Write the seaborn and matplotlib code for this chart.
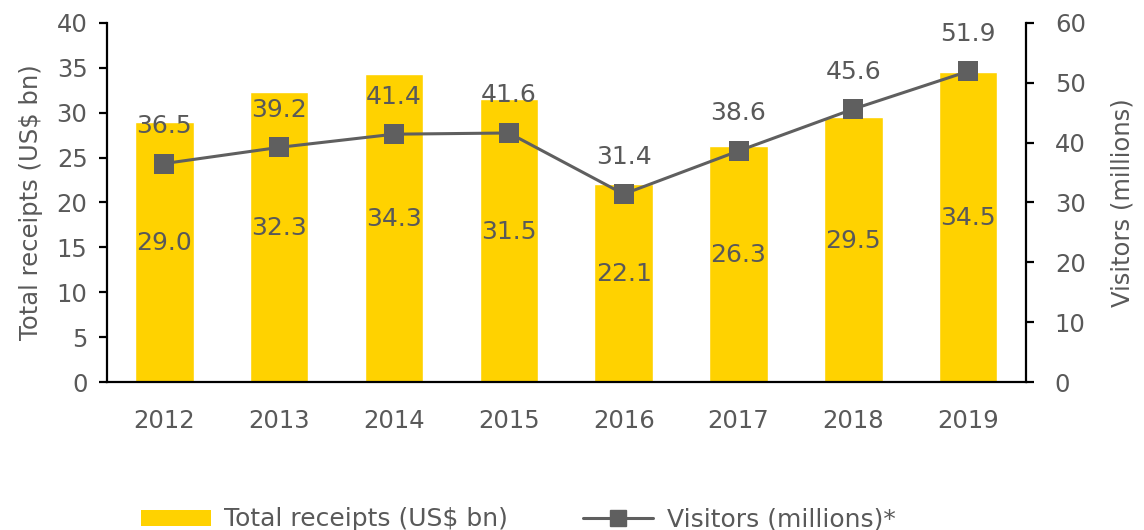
import numpy as np
import pandas as pd
import seaborn as sns
import matplotlib.pyplot as plt
from matplotlib.lines import Line2D
from matplotlib.patches import Patch

years = ["2012", "2013", "2014", "2015", "2016", "2017", "2018", "2019"]
receipts = [29.0, 32.3, 34.3, 31.5, 22.1, 26.3, 29.5, 34.5]
visitors = [36.5, 39.2, 41.4, 41.6, 31.4, 38.6, 45.6, 51.9]

jaune = "#FFD200"
gris = "#5F5F5F"
texte = "#595959"

sns.set_style("white")
plt.rcParams['font.family'] = ['DejaVu Sans']

df = pd.DataFrame({"annee": years, "recettes": receipts, "visiteurs": visitors})

fig = plt.figure(figsize=(11.44, 5.30), dpi=100)
ax = fig.add_axes([0.0935, 0.279, 0.803, 0.678])

# barres des recettes
sns.barplot(data=df, x="annee", y="recettes", color=jaune, width=0.51,
            saturation=1, ax=ax)
ax.set_ylim(0, 40)
ax.set_yticks(range(0, 41, 5))
ax.set_xlim(-0.5, 7.5)
for i, v in enumerate(receipts):
    ax.text(i, v / 2 + 1.0, f"{v:.1f}", ha="center", va="center",
            fontsize=18, color=texte)

# ligne des visiteurs sur l'axe de droite
ax2 = ax.twinx()
sns.lineplot(x=np.arange(len(years)), y=visitors, ax=ax2, color=gris,
             linewidth=2.2, marker="s", markersize=14, markeredgewidth=0)
ax2.set_ylim(0, 60)
ax2.set_yticks(range(0, 61, 10))
for i, v in enumerate(visitors):
    ax2.annotate(f"{v:.1f}", (i, v), xytext=(0, 27), textcoords="offset points",
                 ha="center", va="center", fontsize=18, color=texte)

# axes et graduations
for a in (ax, ax2):
    for s in a.spines.values():
        s.set_visible(False)
ax.spines["left"].set_visible(True)
ax.spines["bottom"].set_visible(True)
ax2.spines["right"].set_visible(True)
for s in (ax.spines["left"], ax.spines["bottom"], ax2.spines["right"]):
    s.set_color("black")
    s.set_linewidth(1.6)

ax.set_xticks(np.arange(-0.5, 8, 1), minor=True)
ax.tick_params(axis="x", which="major", length=0, pad=19, labelsize=17.5, labelcolor=texte)
ax.tick_params(axis="x", which="minor", length=6, width=1.6, color="black", direction="out")
ax.tick_params(axis="y", length=6, width=1.6, color="black", direction="out",
               labelsize=17.5, labelcolor=texte, pad=8, left=True)
ax2.tick_params(axis="y", length=6, width=1.6, color="black", direction="out",
                labelsize=17.5, labelcolor=texte, pad=15, right=True)

ax.set_xlabel("")
ax.set_ylabel("Total receipts (US$ bn)", fontsize=17.5, color=texte, labelpad=10)
ax2.set_ylabel("Visitors (millions)", fontsize=17.5, color=texte, labelpad=18)

# légende en bas
poignees = [Patch(facecolor=jaune, edgecolor="none"),
            Line2D([0], [0], color=gris, linewidth=2.2, marker="s", markersize=12)]
fig.legend(poignees, ["Total receipts (US$ bn)", "Visitors (millions)*"],
           loc="center", bbox_to_anchor=(0.453, 0.02), ncol=2, frameon=False,
           fontsize=18, labelcolor=texte, handlelength=2.8, handletextpad=0.55,
           columnspacing=3.0, handleheight=0.6)

fig.savefig("out.png", dpi=100)
